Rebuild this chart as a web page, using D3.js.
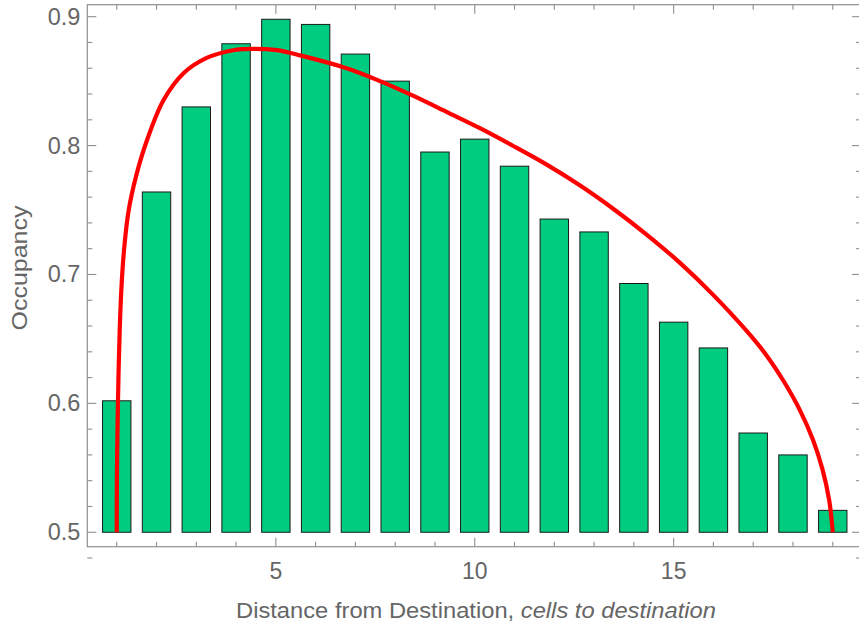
<html>
<head>
<script src="https://cdn.jsdelivr.net/npm/d3@7"></script>
<style>
    body { margin: 0; background: white; }
    svg text { font-family: "Liberation Sans", Arial, sans-serif; fill: #666666; }
</style>
</head>
<body>
<svg id="chart" width="859" height="623"></svg>
<script>
// bar data: distance (cells) and occupancy
const distances = [1, 2, 3, 4, 5, 6, 7, 8, 9, 10, 11, 12, 13, 14, 15, 16, 17, 18, 19]
const occupancy = [0.602, 0.764, 0.830, 0.879, 0.898, 0.894, 0.871, 0.850, 0.795, 0.805,
                   0.784, 0.743, 0.733, 0.693, 0.663, 0.643, 0.577, 0.560, 0.517]

// red fit curve
const curveX = [1.000, 1.004, 1.019, 1.042, 1.075, 1.122, 1.195, 1.301, 1.484, 1.736, 2.171, 2.673, 3.262, 3.930, 4.433,
                5.02, 5.61, 6.78, 7.62, 8.46, 9.30, 10.13, 10.98, 11.82, 12.65, 13.48, 14.32,
                15.16, 16.00, 16.84, 17.34, 17.79, 18.17, 18.50, 18.74, 18.91, 19.00]
const curveY = [0.500, 0.541, 0.579, 0.618, 0.657, 0.692, 0.723, 0.750, 0.776, 0.802, 0.835, 0.856, 0.868, 0.874, 0.875,
                0.874, 0.870, 0.860, 0.850, 0.8385, 0.826, 0.8135, 0.7995, 0.785, 0.769, 0.751, 0.731,
                0.709, 0.684, 0.656, 0.637, 0.616, 0.595, 0.572, 0.549, 0.525, 0.500]

const yMajor = [0.5, 0.6, 0.7, 0.8, 0.9]
const yMinor = d3.range(0.48, 0.92, 0.02)
const xMajor = [5, 10, 15]
const xMinor = d3.range(1, 20, 1)

const svg = d3.select("svg#chart")
const frame = {left: 87.3, right: 861, top: 4.7, bottom: 546.7}

let xScale = d3.scaleLinear()
                .domain([0.26, 19.71])
                .range([frame.left, frame.right]);
let yScale = d3.scaleLinear()
                .domain([0.4888, 0.9093])
                .range([frame.bottom, frame.top]);

const barW = xScale(1.714) - xScale(1)
const frameColor = "#8f8f8f"

// bars
svg.append("g").selectAll("rect").data(distances)
    .join("rect")
    .attr("x", (d) => xScale(d) - barW / 2)
    .attr("y", (d, i) => yScale(occupancy[i]))
    .attr("width", barW)
    .attr("height", (d, i) => yScale(0.5) - yScale(occupancy[i]))
    .attr("fill", "#00cc7f")
    .attr("stroke", "#1a1a1a")
    .attr("stroke-width", 1);

// fitted curve
const pts = curveX.map((x, i) => [x, curveY[i]])
const line = d3.line()
    .x(d => xScale(d[0]))
    .y(d => yScale(d[1]))
    .curve(d3.curveCatmullRom.alpha(0.5))
svg.append("path")
    .attr("d", line(pts))
    .attr("fill", "none")
    .attr("stroke", "#ff0000")
    .attr("stroke-width", 4.2);

// frame
svg.append("rect")
    .attr("x", frame.left).attr("y", frame.top)
    .attr("width", frame.right - frame.left)
    .attr("height", frame.bottom - frame.top)
    .attr("fill", "none")
    .attr("stroke", frameColor)
    .attr("stroke-width", 1.2);

// ticks on all four sides
const ticks = svg.append("g").attr("stroke", frameColor).attr("stroke-width", 1.1)
function tickLen(v, majors) { return majors.some(m => Math.abs(m - v) < 1e-6) ? 9 : 5 }
yMinor.forEach(v => {
    const y = yScale(v), len = tickLen(v, yMajor)
    ticks.append("line").attr("x1", frame.left).attr("x2", frame.left + len).attr("y1", y).attr("y2", y)
    ticks.append("line").attr("x1", frame.right).attr("x2", frame.right - len).attr("y1", y).attr("y2", y)
})
xMinor.forEach(v => {
    const x = xScale(v), len = tickLen(v, xMajor)
    ticks.append("line").attr("x1", x).attr("x2", x).attr("y1", frame.bottom).attr("y2", frame.bottom - len)
    ticks.append("line").attr("x1", x).attr("x2", x).attr("y1", frame.top).attr("y2", frame.top + len)
})

// tick labels
svg.append("g").selectAll("text").data(yMajor)
    .join("text")
    .attr("x", frame.left - 7)
    .attr("y", d => yScale(d) + 8)
    .attr("text-anchor", "end")
    .attr("font-size", 23.5)
    .text(d => d3.format(".1f")(d));

svg.append("g").selectAll("text").data(xMajor)
    .join("text")
    .attr("x", d => xScale(d))
    .attr("y", 579)
    .attr("text-anchor", "middle")
    .attr("font-size", 23)
    .text(d => d);

// axis labels
svg.append("text")
    .attr("transform", "translate(27,268) rotate(-90)")
    .attr("text-anchor", "middle")
    .attr("font-size", 22)
    .attr("textLength", 125)
    .attr("lengthAdjust", "spacingAndGlyphs")
    .text("Occupancy");

const xl = svg.append("text")
    .attr("x", 476)
    .attr("y", 618)
    .attr("text-anchor", "middle")
    .attr("font-size", 21.5)
    .attr("textLength", 480)
    .attr("lengthAdjust", "spacingAndGlyphs")
xl.append("tspan").text("Distance from Destination, ")
xl.append("tspan").attr("font-style", "italic").text("cells to destination")
</script>
</body>
</html>
